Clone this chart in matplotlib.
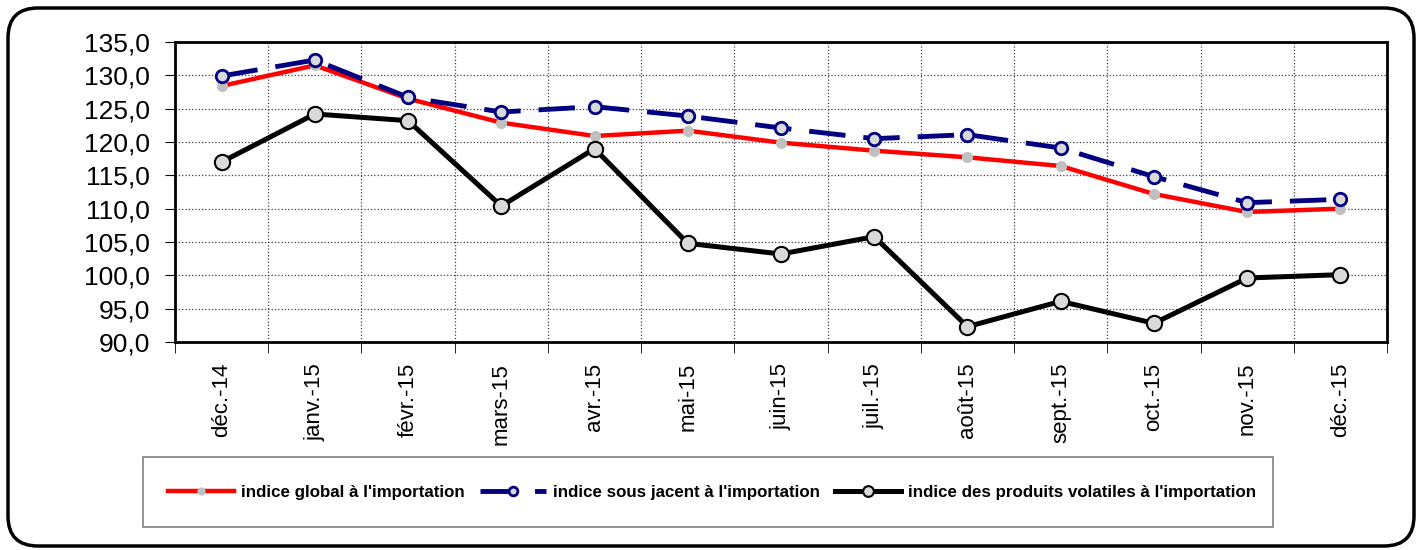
import matplotlib
matplotlib.use("Agg")
import matplotlib.pyplot as plt
import numpy as np
from matplotlib.patches import FancyBboxPatch, Rectangle
from matplotlib.transforms import IdentityTransform

plt.rcParams['font.family'] = ['Liberation Sans', 'DejaVu Sans']

mois = ["déc.-14", "janv.-15", "févr.-15", "mars-15", "avr.-15", "mai-15", "juin-15",
        "juil.-15", "août-15", "sept.-15", "oct.-15", "nov.-15", "déc.-15"]
global_imp = [128.4, 131.5, 126.5, 122.9, 120.9, 121.7, 119.9, 118.7, 117.7, 116.4, 112.2, 109.5, 110.0]
sous_jacent = [129.9, 132.3, 126.7, 124.5, 125.3, 123.9, 122.1, 120.5, 121.1, 119.1, 114.8, 110.9, 111.4]
volatiles = [117.0, 124.2, 123.2, 110.4, 119.0, 104.8, 103.2, 105.8, 92.3, 96.1, 92.8, 99.6, 100.1]

fig = plt.figure(figsize=(14.22, 5.5), dpi=100)
ax = fig.add_axes([175/1422, 1-342/550, (1387-175)/1422, 300/550])

x = np.arange(len(mois))
l1, = ax.plot(x, global_imp, color='#ff0000', lw=3.2, marker='o', ms=7,
              mfc='#c0c0c0', mec='#c0c0c0', zorder=3)
l2, = ax.plot(x, sous_jacent, color='#000080', lw=3.5, dashes=(7.5, 3.7), marker='o', ms=9,
              mfc='#d9d9d9', mec='#000080', mew=2, zorder=4)
l3, = ax.plot(x, volatiles, color='black', lw=3.6, marker='o', ms=11,
              mfc='#d9d9d9', mec='black', mew=1.5, zorder=5)

ax.set_xlim(-0.5, len(mois) - 0.5)
ax.set_ylim(90, 135)
ax.set_yticks(np.arange(90, 136, 5))
ax.set_yticklabels([("%.1f" % v).replace('.', ',') for v in np.arange(90, 136, 5)], fontsize=19)
ax.set_xticks(x)
ax.set_xticklabels(mois, rotation=90, fontsize=16)
ax.set_xticks(np.arange(-0.5, len(mois), 1), minor=True)
ax.tick_params(axis='x', which='major', length=0, pad=15)
ax.tick_params(axis='x', which='minor', length=8, direction='out')
ax.tick_params(axis='y', length=7, direction='out', pad=11)
ax.grid(True, axis='y', which='major', ls=':', color='#404040', lw=0.9)
ax.grid(True, axis='x', which='minor', ls=':', color='#404040', lw=0.9)
for s in ax.spines.values():
    s.set_linewidth(2)

# legend box
fig.add_artist(Rectangle((143, 550-527), 1130, 70, transform=IdentityTransform(),
                         fill=False, edgecolor='#808080', lw=1.2))
fig.legend([l1, l2, l3],
           ["indice global à l'importation", "indice sous jacent à l'importation",
            "indice des produits volatiles à l'importation"],
           loc='center', bbox_to_anchor=(712/1422, 1-492/550), ncol=3, frameon=False,
           prop={'weight': 'bold', 'size': 12.2}, markerscale=0.7, handlelength=3.9,
           columnspacing=0.9, handletextpad=0.4)

# outer rounded frame
fig.add_artist(FancyBboxPatch((8, 4), 1406, 538, boxstyle="round,pad=0,rounding_size=30",
                              transform=IdentityTransform(), fill=False,
                              edgecolor='black', lw=2.5))

fig.savefig("out.png", dpi=100)
